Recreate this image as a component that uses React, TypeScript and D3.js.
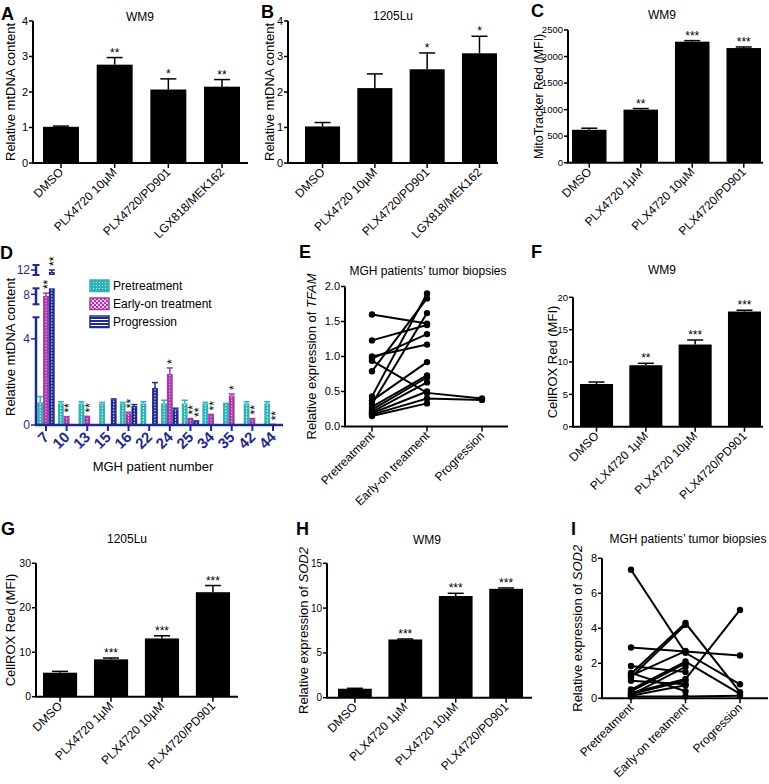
import React from 'react';
import * as d3 from 'd3';

const FONT = 'Liberation Sans, Arial, Helvetica, sans-serif';
const NAVY = '#1f2b8c';
const TEAL = '#2fb3b6';
const MAG = '#a43aa8';

// ---------- Panel A ----------
const catsA = ['DMSO', 'PLX4720 10µM', 'PLX4720/PD901', 'LGX818/MEK162'];
const valsA = [1.02, 2.77, 2.07, 2.15];
const errsA = [0.02, 0.2, 0.3, 0.2];
const starsA = ['', '**', '*', '**'];
const ticksA = [0, 1, 2, 3, 4];

// ---------- Panel B ----------
const catsB = ['DMSO', 'PLX4720 10µM', 'PLX4720/PD901', 'LGX818/MEK162'];
const valsB = [1.03, 2.11, 2.64, 3.09];
const errsB = [0.11, 0.4, 0.46, 0.48];
const starsB = ['', '', '*', '*'];
const ticksB = [0, 1, 2, 3, 4];

// ---------- Panel C ----------
const catsC = ['DMSO', 'PLX4720 1µM', 'PLX4720 10µM', 'PLX4720/PD901'];
const valsC = [620, 1000, 2280, 2160];
const errsC = [30, 20, 20, 20];
const starsC = ['', '**', '***', '***'];
const ticksC = [0, 500, 1000, 1500, 2000, 2500];

// ---------- Panel F ----------
const catsF = ['DMSO', 'PLX4720 1µM', 'PLX4720 10µM', 'PLX4720/PD901'];
const valsF = [6.6, 9.5, 12.7, 17.8];
const errsF = [0.3, 0.3, 0.7, 0.2];
const starsF = ['', '**', '***', '***'];
const ticksF = [0, 5, 10, 15, 20];

// ---------- Panel G ----------
const catsG = ['DMSO', 'PLX4720 1µM', 'PLX4720 10µM', 'PLX4720/PD901'];
const valsG = [5.4, 8.4, 13.1, 23.5];
const errsG = [0.3, 0.3, 0.6, 1.5];
const starsG = ['', '***', '***', '***'];
const ticksG = [0, 10, 20, 30];

// ---------- Panel H ----------
const catsH = ['DMSO', 'PLX4720 1µM', 'PLX4720 10µM', 'PLX4720/PD901'];
const valsH = [1.0, 6.5, 11.35, 12.15];
const errsH = [0.05, 0.05, 0.3, 0.1];
const starsH = ['', '***', '***', '***'];
const ticksH = [0, 5, 10, 15];

// ---------- Panel D ----------
const patientsD = ['7', '10', '13', '15', '16', '22', '24', '25', '34', '35', '42', '44'];
const preD = [1.05, 1.0, 1.0, 1.0, 1.0, 1.0, 1.0, 1.0, 1.0, 1.0, 1.0, 1.0];
const preErrD = [0.27, 0.08, 0.08, 0.05, 0.05, 0.08, 0.15, 0.15, 0.05, 0.0, 0.08, 0.08];
const earlyD = [7.8, 0.36, 0.37, null, 0.54, null, 2.37, 0.28, 0.46, 1.37, 0.27, 0.03];
const earlyErrD = [0.35, 0.03, 0.03, null, 0.05, null, 0.28, 0.02, 0.03, 0.07, 0.03, 0.0];
const progD = [11.8, null, null, 1.18, 0.88, 1.72, 0.73, 0.17, null, null, null, null];
const progErrD = [0.2, null, null, 0.03, 0.07, 0.25, 0.05, 0.02, null, null, null, null];
const earlyStarsD = ['**', '**', '**', '', '**', '', '*', '**', '**', '*', '**', '**'];
const progStarsD = ['**', '', '', '', '', '', '', '**', '', '', '', ''];
const seriesD = ['Pretreatment', 'Early-on treatment', 'Progression'];
const ticksD = [0, 4, 8, 12];

// ---------- Panel E ----------
const stagesE = ['Pretreatment', 'Early-on treatment', 'Progression'];
const preE = [1.60, 1.23, 1.00, 0.97, 0.94, 0.79, 0.43, 0.37, 0.32, 0.28, 0.24, 0.21, 0.19, 0.17, 0.15];
const earlyE = [1.47, 1.45, 1.17, 1.32, 0.48, 1.83, 1.90, 0.92, 1.62, 0.73, 0.70, 0.63, 0.50, 0.40, 0.33];
const progE = [null, null, null, null, 0.40, null, null, null, null, null, null, null, null, 0.38, null];
const ticksE = [0, 0.5, 1.0, 1.5, 2.0];

// ---------- Panel I ----------
const stagesI = ['Pretreatment', 'Early-on treatment', 'Progression'];
const preI = [7.35, 2.9, 1.4, 1.2, 1.85, 1.3, 1.0, 0.5, 0.4, 0.3, 0.2, 0.15, 0.1, 1.45, 0.25];
const earlyI = [2.6, 2.67, 4.3, 4.2, 1.5, 2.7, 0.8, 2.1, 2.0, 1.1, 1.8, 0.75, 0.1, 0.4, 1.0];
const progI = [0.8, 2.45, 0.35, null, null, null, null, 0.25, null, 5.05, null, null, 0.15, null, null];
const ticksI = [0, 2, 4, 6, 8];

type BarCfg = {
  letter: string; lx: number; ly: number;
  title: string; tx: number; ty: number;
  ylabel: React.ReactNode; ylx: number; ylFont?: number;
  ax: number; xEnd: number; y0: number; yTop: number; yMax: number;
  barL: number; barR: number; tickFont?: number;
  cats: string[]; vals: number[]; errs: number[]; stars: string[]; ticks: number[];
  tickFmt?: (v: number) => string;
};

function BarPanel({ c }: { c: BarCfg }) {
  const y = d3.scaleLinear().domain([0, c.yMax]).range([c.y0, c.yTop]);
  const x = d3.scaleBand<string>().domain(c.cats).range([c.barL, c.barR]).paddingInner(0.33).paddingOuter(0);
  const bw = x.bandwidth();
  const fmt = c.tickFmt || ((v: number) => String(v));
  return (
    <g>
      <text x={c.lx} y={c.ly} fontSize={18} fontWeight="bold">{c.letter}</text>
      <text x={c.tx} y={c.ty} fontSize={12} textAnchor="middle">{c.title}</text>
      <text transform={`translate(${c.ylx},${(c.y0 + c.yTop) / 2}) rotate(-90)`} fontSize={c.ylFont || 13} textAnchor="middle">{c.ylabel}</text>
      {c.cats.map((k, i) => {
        const cx = (x(k) as number) + bw / 2;
        const top = y(c.vals[i]);
        const et = y(c.vals[i] + c.errs[i]);
        return (
          <g key={k}>
            <rect x={x(k)} y={top} width={bw} height={c.y0 - top} fill="#000" />
            <line x1={cx} x2={cx} y1={top} y2={et} stroke="#000" strokeWidth={1.5} />
            <line x1={cx - 8} x2={cx + 8} y1={et} y2={et} stroke="#000" strokeWidth={1.5} />
            {c.stars[i] && <text x={cx} y={et - 1} fontSize={12} textAnchor="middle">{c.stars[i]}</text>}
            <line x1={cx} x2={cx} y1={c.y0} y2={c.y0 + 5} stroke="#000" strokeWidth={1.5} />
            <text transform={`translate(${cx + 3},${c.y0 + 10}) rotate(-45)`} fontSize={12} textAnchor="end">{k}</text>
          </g>
        );
      })}
      <line x1={c.ax} x2={c.ax} y1={c.y0} y2={y(c.yMax)} stroke="#000" strokeWidth={2} />
      <line x1={c.ax - 1} x2={c.xEnd} y1={c.y0} y2={c.y0} stroke="#000" strokeWidth={2} />
      {c.ticks.map(t => (
        <g key={t}>
          <line x1={c.ax - 4} x2={c.ax} y1={y(t)} y2={y(t)} stroke="#000" strokeWidth={1.5} />
          <text x={c.ax - 5} y={y(t)} dy="0.35em" fontSize={c.tickFont || 11} textAnchor="end">{fmt(t)}</text>
        </g>
      ))}
    </g>
  );
}

type LineCfg = {
  letter: string; lx: number; ly: number;
  title: string; tx: number; ty: number;
  ylabel: React.ReactNode; ylx: number;
  ax: number; xEnd: number; y0: number; yTop: number; yMax: number;
  px0: number; px1: number;
  stages: string[]; pre: number[]; early: number[]; prog: (number | null)[]; ticks: number[];
  tickFmt?: (v: number) => string;
};

function LinePanel({ c }: { c: LineCfg }) {
  const y = d3.scaleLinear().domain([0, c.yMax]).range([c.y0, c.yTop]);
  const x = d3.scalePoint<string>().domain(c.stages).range([c.px0, c.px1]);
  const fmt = c.tickFmt || ((v: number) => String(v));
  const line = d3.line<[number, number]>().x(d => d[0]).y(d => d[1]);
  const pts: [number, number][] = [];
  const paths: string[] = [];
  c.pre.forEach((v, i) => {
    const seq: [number, number][] = [[x(c.stages[0]) as number, y(v)], [x(c.stages[1]) as number, y(c.early[i])]];
    const p = c.prog[i];
    if (p !== null && p !== undefined) seq.push([x(c.stages[2]) as number, y(p)]);
    paths.push(line(seq) as string);
    seq.forEach(s => pts.push(s));
  });
  return (
    <g>
      <text x={c.lx} y={c.ly} fontSize={18} fontWeight="bold">{c.letter}</text>
      <text x={c.tx} y={c.ty} fontSize={12} textAnchor="middle">{c.title}</text>
      <text transform={`translate(${c.ylx},${(c.y0 + c.yTop) / 2}) rotate(-90)`} fontSize={13} textAnchor="middle">{c.ylabel}</text>
      {paths.map((d, i) => <path key={i} d={d} fill="none" stroke="#000" strokeWidth={2} />)}
      {pts.map((p, i) => <circle key={i} cx={p[0]} cy={p[1]} r={3.2} fill="#000" />)}
      <line x1={c.ax} x2={c.ax} y1={c.y0} y2={y(c.yMax)} stroke="#000" strokeWidth={2} />
      <line x1={c.ax - 1} x2={c.xEnd} y1={c.y0} y2={c.y0} stroke="#000" strokeWidth={2} />
      {c.ticks.map(t => (
        <g key={t}>
          <line x1={c.ax - 4} x2={c.ax} y1={y(t)} y2={y(t)} stroke="#000" strokeWidth={1.5} />
          <text x={c.ax - 5} y={y(t)} dy="0.35em" fontSize={11} textAnchor="end">{fmt(t)}</text>
        </g>
      ))}
      {c.stages.map(s => (
        <g key={s}>
          <line x1={x(s)} x2={x(s)} y1={c.y0} y2={c.y0 + 5} stroke="#000" strokeWidth={1.5} />
          <text transform={`translate(${(x(s) as number) + 3},${c.y0 + 10}) rotate(-45)`} fontSize={12} textAnchor="end">{s}</text>
        </g>
      ))}
    </g>
  );
}

function PanelD() {
  const ax = 36, y0 = 425;
  const yD = d3.scaleLinear().domain([0, 5, 6.75, 8.75, 11.5, 12.5]).range([425, 317.3, 304.3, 288.3, 275, 265]);
  const x0 = d3.scaleBand<string>().domain(patientsD).range([37.3, 281.7]).paddingInner(0.157).paddingOuter(0);
  const x1 = d3.scaleBand<string>().domain(seriesD).range([0, x0.bandwidth()]).padding(0);
  const bw = x1.bandwidth();
  const colors = [TEAL, MAG, NAVY];
  const dashCol = ['#ffffff', '#f2c6f2', '#ffffff'];
  const vals = [preD, earlyD, progD];
  const errs = [preErrD, earlyErrD, progErrD];
  const stars = [null, earlyStarsD, progStarsD];
  const segs: [number, number][] = [[0, 5], [6.75, 8.75], [11.5, 12.5]];
  const items: React.ReactNode[] = [];
  patientsD.forEach((p, gi) => {
    seriesD.forEach((s, si) => {
      const v = vals[si][gi];
      if (v === null || v === undefined) return;
      const e = (errs[si][gi] as number) || 0;
      const bx = (x0(p) as number) + (x1(s) as number);
      const cx = bx + bw / 2;
      const col = colors[si];
      const pieces: [number, number][] = [];
      if (v <= 8.75) pieces.push([yD(v), y0]);
      else {
        pieces.push([yD(8.75), y0]);
        if (v > 11.5) pieces.push([yD(v), yD(11.5)]);
      }
      pieces.forEach((pc, k) => {
        items.push(<rect key={`${p}-${s}-r${k}`} x={bx} y={pc[0]} width={bw} height={pc[1] - pc[0]} fill={col} />);
        items.push(<line key={`${p}-${s}-d${k}`} x1={cx} x2={cx} y1={pc[0] + 1} y2={pc[1] - 1} stroke={dashCol[si]} strokeWidth={1} strokeDasharray="1.5,1.5" />);
      });
      const et = yD(v + e);
      if (e > 0) {
        items.push(<line key={`${p}-${s}-e`} x1={cx} x2={cx} y1={yD(v)} y2={et} stroke={col} strokeWidth={1.5} />);
      }
      items.push(<line key={`${p}-${s}-c`} x1={cx - 3} x2={cx + 3} y1={et} y2={et} stroke={col} strokeWidth={1.5} />);
      const st = stars[si] ? (stars[si] as string[])[gi] : '';
      if (st) {
        items.push(<text key={`${p}-${s}-s`} transform={`translate(${cx + 6.5},${et - 4}) rotate(-90)`} fontSize={12} fill="#000">{st}</text>);
      }
    });
  });
  const legend = seriesD.map((s, i) => (
    <g key={s}>
      <rect x={90} y={280 + i * 18} width={19} height={11.5} fill={`url(#pat${i})`} stroke={colors[i]} strokeWidth={1.5} />
      <text x={113} y={290 + i * 18} fontSize={12} fill="#000">{s}</text>
    </g>
  ));
  return (
    <g>
      <defs>
        <pattern id="pat0" width="3" height="3" patternUnits="userSpaceOnUse">
          <rect width="3" height="3" fill={TEAL} />
          <rect width="1" height="1" fill="#d8f3f3" />
        </pattern>
        <pattern id="pat1" width="4" height="4" patternUnits="userSpaceOnUse">
          <rect width="4" height="4" fill={MAG} />
          <rect width="2" height="2" fill="#f0c2ee" />
          <rect x="2" y="2" width="2" height="2" fill="#f0c2ee" />
        </pattern>
        <pattern id="pat2" width="3" height="3" patternUnits="userSpaceOnUse">
          <rect width="3" height="3" fill={NAVY} />
          <rect y="1" width="3" height="1" fill="#ffffff" />
        </pattern>
      </defs>
      <text x={0} y={259} fontSize={18} fontWeight="bold">D</text>
      <text transform={`translate(15,347) rotate(-90)`} fontSize={13} textAnchor="middle">Relative mtDNA content</text>
      {items}
      {segs.map((sg, i) => (
        <g key={i}>
          <line x1={ax} x2={ax} y1={yD(sg[0])} y2={yD(sg[1])} stroke={NAVY} strokeWidth={2.5} />
          <line x1={ax - 3.5} x2={ax + 3.5} y1={yD(sg[1])} y2={yD(sg[1])} stroke={NAVY} strokeWidth={2} />
          {i > 0 && <line x1={ax - 3.5} x2={ax + 3.5} y1={yD(sg[0])} y2={yD(sg[0])} stroke={NAVY} strokeWidth={2} />}
        </g>
      ))}
      <line x1={ax - 1} x2={283} y1={y0} y2={y0} stroke={NAVY} strokeWidth={2.5} />
      {ticksD.map(t => (
        <g key={t}>
          <line x1={ax - 5} x2={ax} y1={yD(t)} y2={yD(t)} stroke={NAVY} strokeWidth={1.5} />
          <text x={ax - 6} y={yD(t)} dy="0.35em" fontSize={12} textAnchor="end" fill={NAVY}>{t}</text>
        </g>
      ))}
      {patientsD.map(p => {
        const cx = (x0(p) as number) + x0.bandwidth() / 2;
        return (
          <g key={p}>
            <line x1={cx} x2={cx} y1={y0} y2={y0 + 6} stroke={NAVY} strokeWidth={2} />
            <text transform={`translate(${cx + 4},${y0 + 13}) rotate(-45)`} fontSize={15} fontWeight="bold" textAnchor="end" fill={NAVY}>{p}</text>
          </g>
        );
      })}
      {legend}
      <text x={153} y={471} fontSize={13} textAnchor="middle">MGH patient number</text>
    </g>
  );
}

export default function App() {
  const cA: BarCfg = {
    letter: 'A', lx: 1, ly: 20, title: 'WM9', tx: 140, ty: 21, ylabel: 'Relative mtDNA content', ylx: 15,
    ax: 33, xEnd: 248, y0: 163, yTop: 21, yMax: 4, barL: 43, barR: 240,
    cats: catsA, vals: valsA, errs: errsA, stars: starsA, ticks: ticksA,
  };
  const cB: BarCfg = {
    letter: 'B', lx: 261, ly: 18, title: '1205Lu', tx: 393, ty: 20, ylabel: 'Relative mtDNA content', ylx: 274,
    ax: 288, xEnd: 498, y0: 163, yTop: 21, yMax: 4, barL: 305, barR: 497,
    cats: catsB, vals: valsB, errs: errsB, stars: starsB, ticks: ticksB,
  };
  const cC: BarCfg = {
    letter: 'C', lx: 531, ly: 17, title: 'WM9', tx: 662, ty: 19, ylabel: 'MitoTracker Red (MFI)', ylx: 543, ylFont: 12.5,
    ax: 568, xEnd: 763, y0: 162.7, yTop: 30, yMax: 2500, barL: 572, barR: 761, tickFont: 9.5,
    cats: catsC, vals: valsC, errs: errsC, stars: starsC, ticks: ticksC,
  };
  const cF: BarCfg = {
    letter: 'F', lx: 531, ly: 258, title: 'WM9', tx: 662, ty: 274, ylabel: 'CellROX Red (MFI)', ylx: 557,
    ax: 573, xEnd: 763, y0: 426.7, yTop: 297.3, yMax: 20, barL: 580, barR: 761, tickFont: 9.5,
    cats: catsF, vals: valsF, errs: errsF, stars: starsF, ticks: ticksF,
  };
  const cG: BarCfg = {
    letter: 'G', lx: 1, ly: 535, title: '1205Lu', tx: 127, ty: 543, ylabel: 'CellROX Red (MFI)', ylx: 15,
    ax: 36, xEnd: 238, y0: 696.7, yTop: 563.3, yMax: 30, barL: 43, barR: 230, tickFont: 10.5,
    cats: catsG, vals: valsG, errs: errsG, stars: starsG, ticks: ticksG,
  };
  const cH: BarCfg = {
    letter: 'H', lx: 296, ly: 535, title: 'WM9', tx: 427, ty: 544,
    ylabel: <>Relative expression of <tspan fontStyle="italic">SOD2</tspan></>, ylx: 308,
    ax: 327, xEnd: 532, y0: 697.7, yTop: 563.3, yMax: 15, barL: 338, barR: 523, tickFont: 10,
    cats: catsH, vals: valsH, errs: errsH, stars: starsH, ticks: ticksH,
  };
  const cE: LineCfg = {
    letter: 'E', lx: 299, ly: 258, title: 'MGH patients\u2019 tumor biopsies', tx: 428, ty: 275,
    ylabel: <>Relative expression of <tspan fontStyle="italic">TFAM</tspan></>, ylx: 316,
    ax: 345, xEnd: 508, y0: 426.5, yTop: 286.5, yMax: 2, px0: 372, px1: 482,
    stages: stagesE, pre: preE, early: earlyE, prog: progE, ticks: ticksE, tickFmt: d3.format('.1f'),
  };
  const cI: LineCfg = {
    letter: 'I', lx: 571, ly: 535, title: 'MGH patients\u2019 tumor biopsies', tx: 688, ty: 543,
    ylabel: <>Relative expression of <tspan fontStyle="italic">SOD2</tspan></>, ylx: 582,
    ax: 602, xEnd: 768, y0: 698.3, yTop: 558.3, yMax: 8, px0: 631, px1: 740,
    stages: stagesI, pre: preI, early: earlyI, prog: progI, ticks: ticksI,
  };
  return (
    <svg width={769} height={784} style={{ position: 'absolute', left: 0, top: 0, background: '#fff' }} fontFamily={FONT}>
      <rect width={769} height={784} fill="#fff" />
      <BarPanel c={cA} />
      <BarPanel c={cB} />
      <BarPanel c={cC} />
      <PanelD />
      <LinePanel c={cE} />
      <BarPanel c={cF} />
      <BarPanel c={cG} />
      <BarPanel c={cH} />
      <LinePanel c={cI} />
    </svg>
  );
}
